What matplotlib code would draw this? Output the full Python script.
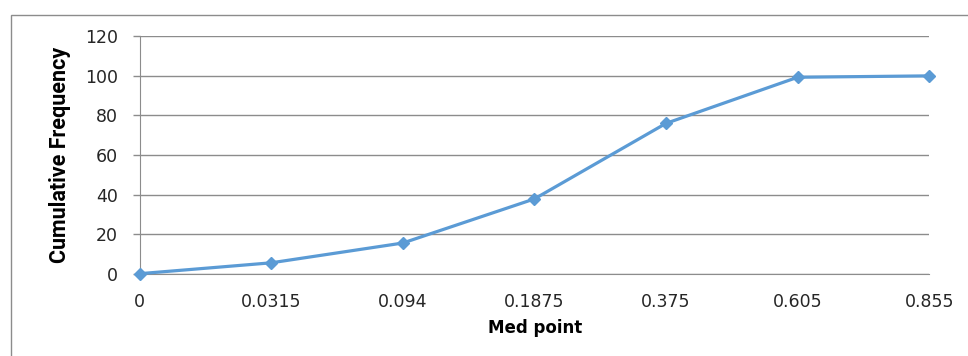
import matplotlib
matplotlib.use('Agg')
import matplotlib.pyplot as plt
from matplotlib.patches import Rectangle

# Cumulative frequency against the mid point of each class
med_points = ["0", "0.0315", "0.094", "0.1875", "0.375", "0.605", "0.855"]
cum_freq = [0, 5.5, 15.5, 37.8, 76, 99.3, 100]
y_ticks = [0, 20, 40, 60, 80, 100, 120]

LINE = "#5B9BD5"
GRID = "#8c8c8c"
TEXT = "#262626"

W, H = 968, 356
fig = plt.figure(figsize=(W / 100, H / 100), dpi=100)

# chart frame (runs off the right and bottom edges)
fig.patches.append(Rectangle((11 / W, -0.2), 1.2, 1.2 - 15.3 / H,
                             transform=fig.transFigure, fill=False,
                             edgecolor=GRID, linewidth=1.0))

ax = fig.add_axes([139.5 / W, (H - 273.7) / H, (929.3 - 139.5) / W, (273.7 - 36.3) / H])

x = list(range(len(med_points)))
ax.plot(x, cum_freq, color=LINE, linewidth=2.3, marker="D", markersize=6.5,
        markerfacecolor=LINE, markeredgecolor=LINE, zorder=3, clip_on=False)

ax.set_xlim(0, len(med_points) - 1)
ax.set_ylim(0, 120)
ax.set_xticks(x)
ax.set_xticklabels(med_points)
ax.set_yticks(y_ticks)

ax.grid(axis="y", color=GRID, linewidth=1.0)
ax.set_axisbelow(True)
for side in ("top", "right"):
    ax.spines[side].set_visible(False)
ax.spines["left"].set_color(GRID)
ax.spines["bottom"].set_color(GRID)

ax.tick_params(axis="x", length=0, pad=14, labelsize=12.5, labelcolor=TEXT)
ax.tick_params(axis="y", length=4.7, width=1.0, color=GRID, pad=11,
               labelsize=12.5, labelcolor=TEXT, direction="out")

ax.set_xlabel("Med point", fontsize=12, fontweight="bold", color="black")
ax.xaxis.set_label_coords(0.5008, -0.229)
ax.xaxis.label.set_va("center")

ax.set_ylabel("Cumulative Frequency", fontsize=15.5, fontweight="semibold",
              color="black", family=["Roboto", "DejaVu Sans"])
ax.yaxis.set_label_coords(-0.1007, 0.5)
ax.yaxis.label.set_va("center")

fig.savefig("out.png", dpi=100)
